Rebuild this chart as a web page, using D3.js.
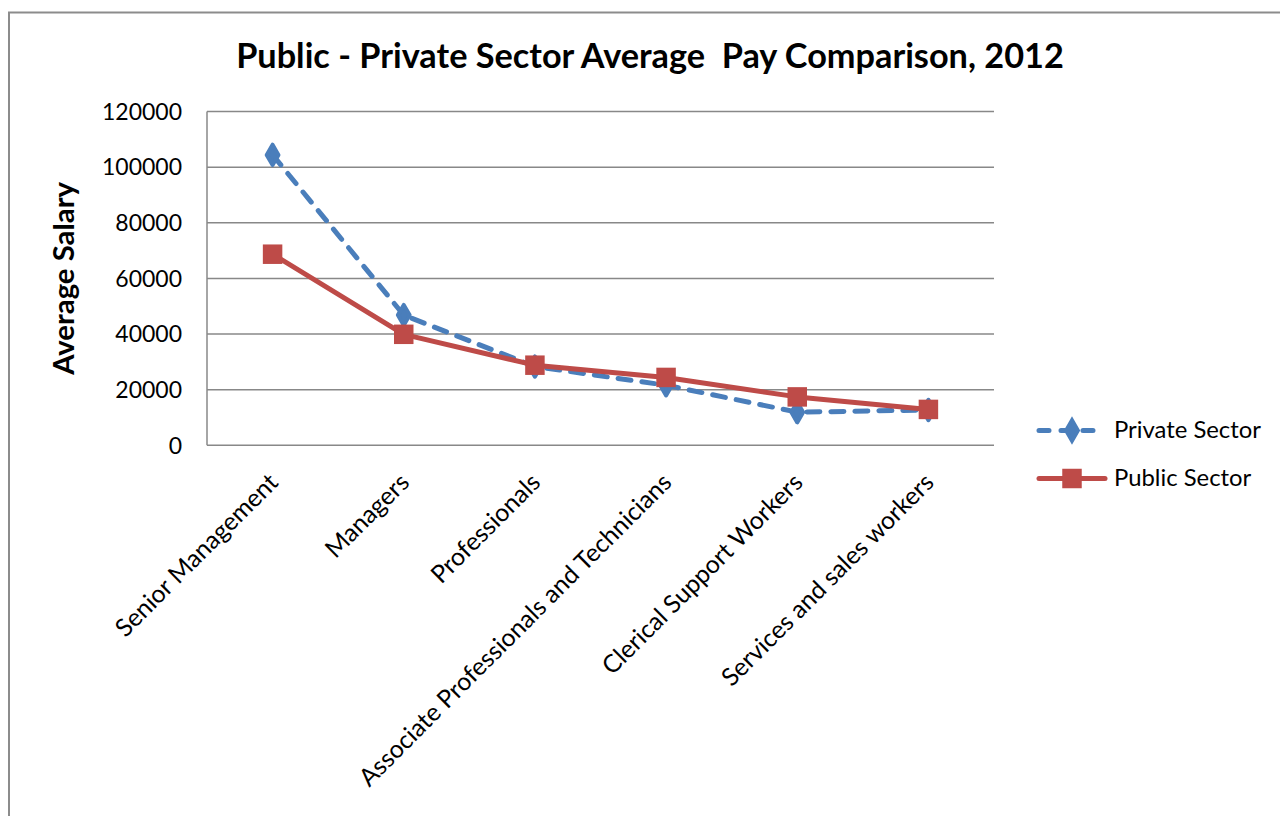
<!DOCTYPE html>
<html>
<head>
<meta charset="utf-8">
<script src="https://cdn.jsdelivr.net/npm/d3@7"></script>
<style>
  html, body { margin: 0; padding: 0; background: #fff; }
  svg { display: block; font-family: Lato, "Open Sans", sans-serif; }
</style>
</head>
<body>
<div id="chart"></div>
<script>
const categories = [
  "Senior Management",
  "Managers",
  "Professionals",
  "Associate Professionals and Technicians",
  "Clerical Support Workers",
  "Services and sales workers"
];
const privateSector = [104400, 46800, 28300, 21600, 11900, 12700];
const publicSector = [68700, 39900, 28800, 24400, 17400, 12900];
const yTicks = [0, 20000, 40000, 60000, 80000, 100000, 120000];
const seriesNames = ["Private Sector", "Public Sector"];

const width = 1280, height = 816;
const plot = { left: 207, right: 994, top: 111.5, bottom: 445.3 };
const blue = "#4a7ebb", red = "#be4b48", grid = "#888888";

const svg = d3.select("#chart").append("svg")
  .attr("width", width)
  .attr("height", height);

// shrink / grow a text's font so it spans the width
function fitWidth(sel, target) {
  const fs = parseFloat(sel.attr("font-size"));
  const w = sel.node().getComputedTextLength();
  sel.attr("font-size", fs * target / w);
  return fs * target / w;
}

// outer chart border (runs off the right and bottom edges)
svg.append("rect")
  .attr("x", 9).attr("y", 12.5)
  .attr("width", 1400).attr("height", 1000)
  .attr("fill", "none")
  .attr("stroke", "#8c8c8c")
  .attr("stroke-width", 2);

const x = d3.scaleBand()
  .domain(categories)
  .range([plot.left, plot.right])
  .padding(0);
const cx = (d) => x(d) + x.bandwidth() / 2;

const y = d3.scaleLinear()
  .domain([0, 120000])
  .range([plot.bottom, plot.top]);

// gridlines
svg.append("g")
  .selectAll("line")
  .data(yTicks)
  .join("line")
  .attr("x1", plot.left).attr("x2", plot.right)
  .attr("y1", (d) => y(d)).attr("y2", (d) => y(d))
  .attr("stroke", grid)
  .attr("stroke-width", 1.5);

// y axis line
svg.append("line")
  .attr("x1", plot.left).attr("x2", plot.left)
  .attr("y1", plot.top).attr("y2", plot.bottom)
  .attr("stroke", grid)
  .attr("stroke-width", 1.5);

// y tick labels
svg.append("g")
  .selectAll("text")
  .data(yTicks)
  .join("text")
  .attr("x", 182)
  .attr("y", (d) => y(d))
  .attr("dy", "0.36em")
  .attr("text-anchor", "end")
  .attr("font-size", 23)
  .attr("fill", "#000")
  .text((d) => d);

// x labels, rotated
const xLabels = svg.append("g")
  .selectAll("text")
  .data(categories)
  .join("text")
  .attr("text-anchor", "end")
  .attr("font-size", 22)
  .attr("fill", "#000")
  .attr("transform", (d) => `translate(${cx(d) + 7}, 484) rotate(-45)`)
  .text((d) => d);
const labelSize = fitWidth(d3.select(xLabels.nodes()[3]), 430);
xLabels.attr("font-size", labelSize);

// title
const title = svg.append("text")
  .attr("x", 650).attr("y", 68)
  .attr("text-anchor", "middle")
  .attr("font-size", 30)
  .attr("font-weight", "bold")
  .attr("xml:space", "preserve")
  .style("white-space", "pre")
  .text("Public - Private Sector Average  Pay Comparison, 2012");
fitWidth(title, 828);

// y axis title
const yTitle = svg.append("text")
  .attr("transform", `translate(74, ${(plot.top + plot.bottom) / 2}) rotate(-90)`)
  .attr("text-anchor", "middle")
  .attr("font-size", 25)
  .attr("font-weight", "bold")
  .text("Average Salary");
fitWidth(yTitle, 193);

const line = d3.line()
  .x((d) => cx(d.cat))
  .y((d) => y(d.v));

const privData = categories.map((c, i) => ({ cat: c, v: privateSector[i] }));
const pubData = categories.map((c, i) => ({ cat: c, v: publicSector[i] }));

const diamond = d3.symbol().type(d3.symbolDiamond).size(120);
const square = d3.symbol().type(d3.symbolSquare).size(380);

// private sector
svg.append("path")
  .datum(privData)
  .attr("d", line)
  .attr("fill", "none")
  .attr("stroke", blue)
  .attr("stroke-width", 5)
  .attr("stroke-dasharray", "13 11")
  .attr("stroke-linecap", "round");

svg.append("g")
  .selectAll("path")
  .data(privData)
  .join("path")
  .attr("d", diamond)
  .attr("transform", (d) => `translate(${cx(d.cat)}, ${y(d.v)})`)
  .attr("fill", blue)
  .attr("stroke", blue)
  .attr("stroke-width", 4)
  .attr("stroke-linejoin", "round");

// public sector
svg.append("path")
  .datum(pubData)
  .attr("d", line)
  .attr("fill", "none")
  .attr("stroke", red)
  .attr("stroke-width", 5)
  .attr("stroke-linejoin", "round");

svg.append("g")
  .selectAll("path")
  .data(pubData)
  .join("path")
  .attr("d", square)
  .attr("transform", (d) => `translate(${cx(d.cat)}, ${y(d.v)})`)
  .attr("fill", red);

// legend
const legend = svg.append("g");
const legendRows = [
  { name: seriesNames[0], color: blue, dash: "13 11", symbol: diamond, y: 430.5 },
  { name: seriesNames[1], color: red, dash: null, symbol: square, y: 478.5 }
];
legendRows.forEach((r) => {
  const g = legend.append("g");
  g.append("line")
    .attr("x1", 1039).attr("x2", 1105)
    .attr("y1", r.y).attr("y2", r.y)
    .attr("stroke", r.color)
    .attr("stroke-width", 5)
    .attr("stroke-linecap", "round")
    .attr("stroke-dasharray", r.dash ? "10 12" : null);
  g.append("path")
    .attr("d", r.symbol)
    .attr("transform", `translate(1072, ${r.y})`)
    .attr("fill", r.color)
    .attr("stroke", r.dash ? r.color : "none")
    .attr("stroke-width", 4);
  const t = g.append("text")
    .attr("x", 1114)
    .attr("y", r.y + 7)
    .attr("font-size", 23)
    .text(r.name);
  if (r.dash) fitWidth(t, 147);
});
legend.selectAll("text").attr("font-size", legend.select("text").attr("font-size"));
</script>
</body>
</html>
